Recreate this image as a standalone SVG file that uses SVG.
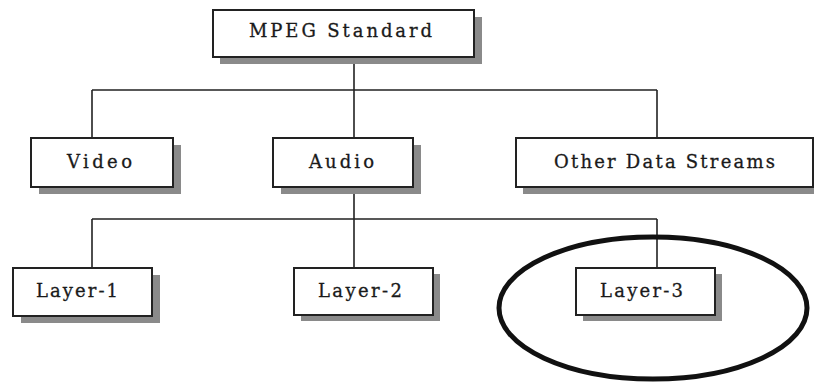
<svg xmlns="http://www.w3.org/2000/svg" width="814" height="383" viewBox="0 0 814 383">
<style>
.box{fill:#fff;stroke:#222;stroke-width:2}
.sh{fill:#8a8a8a}
.lbl{font-family:"DejaVu Serif","Liberation Serif",serif;font-size:18px;fill:#1a1a1a;stroke:#1a1a1a;stroke-width:0.3}
.con{stroke:#222;stroke-width:1.6;fill:none}
</style>
<rect width="814" height="383" fill="#fff"/>
<g id="connectors">
<path class="con" d="M354 57V138M92 90H657M92 90V138M657 90V138M354 187V268M92 219H657M92 219V268M657 219V268"/>
</g>
<g id="mpeg">
<rect class="sh" x="220" y="17" width="262" height="47"/>
<rect class="box" x="213" y="10" width="261" height="47"/>
<text class="lbl" x="249" y="37" textLength="183" lengthAdjust="spacing">MPEG Standard</text>
</g>
<g id="video">
<rect class="sh" x="39" y="145" width="142" height="49"/>
<rect class="box" x="31" y="138" width="142" height="49"/>
<text class="lbl" x="67" y="168" textLength="65" lengthAdjust="spacing">Video</text>
</g>
<g id="audio">
<rect class="sh" x="281" y="145" width="140" height="49"/>
<rect class="box" x="273" y="138" width="140" height="49"/>
<text class="lbl" x="309" y="168" textLength="65" lengthAdjust="spacing">Audio</text>
</g>
<g id="other">
<rect class="sh" x="523" y="145" width="297" height="49"/>
<rect class="box" x="516" y="138" width="297" height="49"/>
<text class="lbl" x="554" y="168" textLength="221" lengthAdjust="spacing">Other Data Streams</text>
</g>
<g id="layer1">
<rect class="sh" x="21" y="275" width="139" height="48"/>
<rect class="box" x="13" y="268" width="139" height="48"/>
<text class="lbl" x="36" y="297" textLength="82" lengthAdjust="spacing">Layer-1</text>
</g>
<g id="layer2">
<rect class="sh" x="301" y="274" width="139" height="47"/>
<rect class="box" x="294" y="268" width="139" height="47"/>
<text class="lbl" x="318" y="297" textLength="84" lengthAdjust="spacing">Layer-2</text>
</g>
<g id="layer3">
<rect class="sh" x="583" y="274" width="139" height="47"/>
<rect class="box" x="576" y="268" width="139" height="47"/>
<text class="lbl" x="600" y="297" textLength="83" lengthAdjust="spacing">Layer-3</text>
</g>
<g id="highlight">
<ellipse cx="653" cy="308" rx="154" ry="71" fill="none" stroke="#111" stroke-width="5"/>
</g>
</svg>
